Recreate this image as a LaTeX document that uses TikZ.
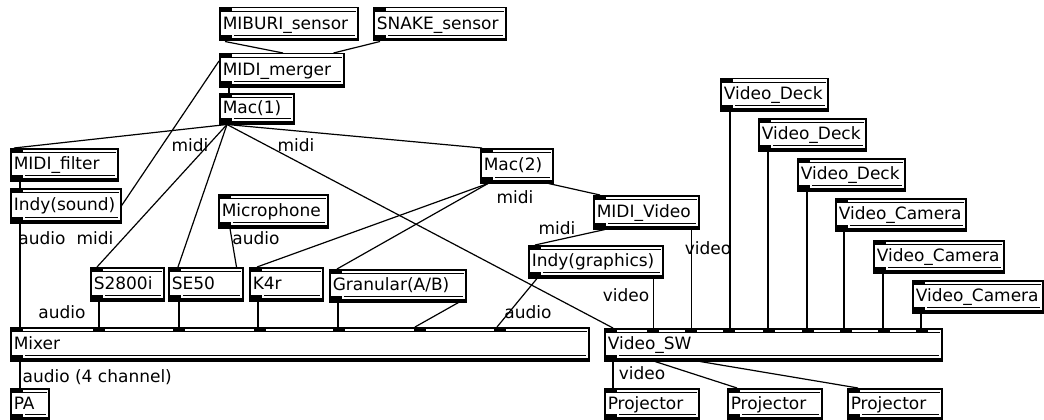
\documentclass[tikz,border=0pt]{standalone}
\usepackage{fontspec}
\setmainfont{DejaVu Sans}
\begin{document}
\begin{tikzpicture}[x=1pt,y=-1pt,line width=1.2pt,
        font=\fontsize{17}{18}\selectfont,
        pbox/.style={draw,line width=1.5pt,anchor=north west,fill=white,
            inner xsep=3pt,inner ysep=0pt,align=left,minimum height=33pt,
            text height=13pt,text depth=3pt,
            path picture={
                \fill[black] (path picture bounding box.south west) rectangle ([yshift=3pt]path picture bounding box.south east);
                \fill[black] (path picture bounding box.south west) rectangle ([shift={(12pt,5.5pt)}]path picture bounding box.south west);
                \fill[black] (path picture bounding box.north west) rectangle ([shift={(12pt,-4pt)}]path picture bounding box.north west);
                \draw[black,line width=0.7pt] ([shift={(2pt,-4pt)}]path picture bounding box.north west) -- ([shift={(-2pt,-4pt)}]path picture bounding box.north east);
                \draw[black,line width=0.6pt] ([shift={(14pt,5.3pt)}]path picture bounding box.south west) -- ([shift={(-3pt,5.3pt)}]path picture bounding box.south east);
            }},
        pw/.style={text width=#1pt-6pt},
        lbl/.style={inner sep=0pt}]
    \useasboundingbox (0,0) rectangle (1044,420);

    % sensors and computers
    \node[pbox,pw=138] (miburi) at (219,7) {MIBURI\_sensor};
    \node[pbox,pw=132] (snake) at (373,7) {SNAKE\_sensor};
    \node[pbox,pw=124] (merger) at (219,53) {MIDI\_merger};
    \node[pbox,pw=74,minimum height=30pt] (mac1) at (219,93) {Mac(1)};
    \node[pbox,pw=107,minimum height=32pt] (filter) at (10,148) {MIDI\_filter};
    \node[pbox,pw=110,minimum height=34pt] (indys) at (10,188) {Indy(sound)};
    \node[pbox,pw=109] (micro) at (218,194) {Microphone};
    \node[pbox,pw=72,minimum height=34pt] (mac2) at (480,148) {Mac(2)};
    \node[pbox,pw=105] (mvideo) at (593,195) {MIDI\_Video};
    \node[pbox,pw=134,minimum height=32pt] (indyg) at (528,245) {Indy(graphics)};

    % sound sources
    \node[pbox,pw=73] (s2800) at (90,267) {S2800i};
    \node[pbox,pw=74] (se50) at (168,267) {SE50};
    \node[pbox,pw=73] (kfour) at (249,267) {K4r};
    \node[pbox,pw=136,minimum height=32pt] (gran) at (329,269) {Granular(A/B)};

    % mixers
    \node[pbox,pw=578] (mixer) at (10,327) {Mixer};
    \node[pbox,pw=38,minimum height=31pt] (pa) at (10,388) {PA};
    \node[pbox,pw=337,minimum height=32pt] (vsw) at (604,328) {Video\_SW};
    \foreach \dx in {83,163,244,323,404,484}
        \fill ([xshift=\dx pt]mixer.north west) rectangle ++(12pt,-4pt);
    \foreach \dx in {43,81,119,159,198,236,274,312}
        \fill ([xshift=\dx pt]vsw.north west) rectangle ++(12pt,-4pt);

    \foreach \n/\x in {1/604,2/727,3/847}
        \node[pbox,pw=94,minimum height=31pt] (proj\n) at (\x,388) {Projector};
    \foreach \n/\x/\y in {1/720/78,2/758/118,3/797/158}
        \node[pbox,pw=107,minimum height=32pt] (deck\n) at (\x,\y) {Video\_Deck};
    \foreach \n/\x/\y in {1/835/198,2/873/240,3/912/280}
        \node[pbox,pw=130,minimum height=32pt] (cam\n) at (\x,\y) {Video\_Camera};

    % midi side
    \draw ([xshift=6pt]miburi.south west) -- ([xshift=64pt]merger.north west);
    \draw ([xshift=7pt]snake.south west) -- ([xshift=-11pt]merger.north east);
    \draw ([xshift=10pt]merger.south west) -- ([xshift=10pt]mac1.north west);
    \draw ([yshift=-8pt]merger.north west) -- (indys.east);

    \coordinate (m1out) at ([xshift=8pt]mac1.south west);
    \draw (m1out) -- ([xshift=4pt]filter.north west);
    \draw (m1out) -- ([xshift=7pt]s2800.north west);
    \draw (m1out) -- ([xshift=10pt]se50.north west);
    \draw (m1out) -- ([xshift=2pt]mac2.north west);
    \draw (m1out) -- ([xshift=9pt]vsw.north west);

    \coordinate (m2out) at ([xshift=8pt]mac2.south west);
    \draw (m2out) -- ([xshift=8pt]kfour.north west);
    \draw (m2out) -- ([xshift=8pt]gran.north west);
    \draw ([xshift=-5pt]mac2.south east) -- ([xshift=7pt]mvideo.north west);
    \draw ([xshift=12pt]mvideo.south west) -- ([xshift=7pt]indyg.north west);

    % audio side
    \draw ([xshift=10pt]filter.south west) -- ([xshift=10pt]indys.north west);
    \draw ([xshift=10pt]indys.south west) -- ([xshift=10pt]mixer.north west);
    \draw ([xshift=12pt]micro.south west) -- ([xshift=-7pt]se50.north east);
    \foreach \src/\dx in {s2800/9,se50/11,kfour/9,gran/9}
        \draw ([xshift=\dx pt]\src.south west) -- ([xshift=\dx pt]\src.south west |- mixer.north);
    \draw ([xshift=-8pt]gran.south east) -- ([xshift=405pt]mixer.north west);
    \draw ([xshift=9pt]indyg.south west) -- ([xshift=487pt]mixer.north west);
    \draw ([xshift=10pt]mixer.south west) -- ([xshift=10pt]pa.north west);

    % video side
    \foreach \src/\dx in {deck1/10,deck2/10,deck3/10,cam1/9,cam2/10,cam3/9}
        \draw ([xshift=\dx pt]\src.south west) -- ([xshift=\dx pt]\src.south west |- vsw.north);
    \draw ([xshift=-8pt]mvideo.south east) -- ([xshift=-8pt]mvideo.south east |- vsw.north);
    \draw ([xshift=-10pt]indyg.south east) -- ([xshift=-10pt]indyg.south east |- vsw.north);
    \draw ([xshift=9pt]vsw.south west) -- ([xshift=9pt]proj1.north west);
    \draw ([xshift=51pt]vsw.south west) -- ([xshift=10pt]proj2.north west);
    \draw ([xshift=96pt]vsw.south west) -- ([xshift=11pt]proj3.north west);

    % labels
    \node[lbl] (midia) at (190,145) {midi};
    \node[lbl] (midib) at (296,145) {midi};
    \node[lbl] (audioa) at (42,238) {audio};
    \node[lbl] (midic) at (95,238) {midi};
    \node[lbl] (audiob) at (256,238) {audio};
    \node[lbl] (midid) at (515,197) {midi};
    \node[lbl] (midie) at (557,228) {midi};
    \node[lbl] (videoa) at (708,248) {video};
    \node[lbl] (videob) at (626,295) {video};
    \node[lbl] (audioc) at (528,312) {audio};
    \node[lbl] (audiod) at (62,312) {audio};
    \node[lbl,anchor=west] (audioe) at (22,377) {audio (4 channel)};
    \node[lbl] (videoc) at (642,373) {video};
\end{tikzpicture}
\end{document}
